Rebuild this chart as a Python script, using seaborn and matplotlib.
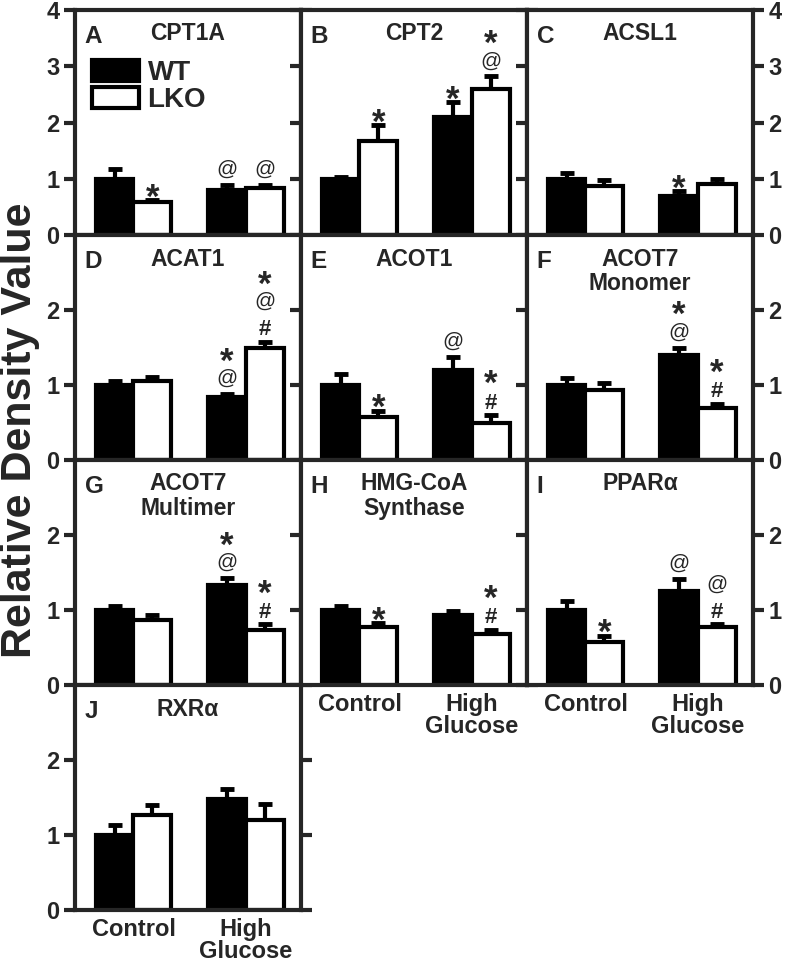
import numpy as np
import pandas as pd
import matplotlib
matplotlib.use("Agg")
import matplotlib.pyplot as plt
import seaborn as sns

sns.set_style("ticks")
plt.rcParams['font.family'] = ['Liberation Sans', 'DejaVu Sans']
plt.rcParams['font.weight'] = 'bold'

# ---------------- data ----------------
conditions = ['Control', 'High\nGlucose']
genotypes = ['WT', 'LKO']
panel_letters = ['A', 'B', 'C', 'D', 'E', 'F', 'G', 'H', 'I', 'J']
panel_titles = ['CPT1A', 'CPT2', 'ACSL1', 'ACAT1', 'ACOT1', 'ACOT7\nMonomer',
                'ACOT7\nMultimer', 'HMG-CoA\nSynthase', 'PPARα', 'RXRα']

wt_control = [1.00, 1.00, 1.00, 1.00, 1.00, 1.00, 1.00, 1.00, 1.00, 1.00]
wt_control_err = [0.17, 0.03, 0.10, 0.06, 0.15, 0.10, 0.06, 0.05, 0.12, 0.14]
lko_control = [0.59, 1.68, 0.87, 1.05, 0.58, 0.93, 0.87, 0.78, 0.58, 1.27]
lko_control_err = [0.03, 0.28, 0.10, 0.06, 0.08, 0.10, 0.07, 0.05, 0.08, 0.13]
wt_high = [0.80, 2.09, 0.70, 0.84, 1.20, 1.40, 1.33, 0.94, 1.26, 1.48]
wt_high_err = [0.09, 0.28, 0.08, 0.04, 0.17, 0.10, 0.10, 0.05, 0.15, 0.13]
lko_high = [0.84, 2.60, 0.90, 1.50, 0.50, 0.70, 0.74, 0.68, 0.77, 1.20]
lko_high_err = [0.05, 0.22, 0.10, 0.08, 0.10, 0.05, 0.07, 0.06, 0.04, 0.21]

# significance marks, listed bottom-to-top: (condition index, genotype, marks)
marks = [
    [(0, 'LKO', '*'), (1, 'WT', '@'), (1, 'LKO', '@')],
    [(0, 'LKO', '*'), (1, 'WT', '*'), (1, 'LKO', '@*')],
    [(1, 'WT', '*')],
    [(1, 'WT', '@*'), (1, 'LKO', '#@*')],
    [(0, 'LKO', '*'), (1, 'WT', '@'), (1, 'LKO', '#*')],
    [(1, 'WT', '@*'), (1, 'LKO', '#*')],
    [(1, 'WT', '@*'), (1, 'LKO', '#*')],
    [(0, 'LKO', '*'), (1, 'LKO', '#*')],
    [(0, 'LKO', '*'), (1, 'WT', '@'), (1, 'LKO', '#@')],
    [],
]

# ---------------- layout ----------------
W, H = 789, 965
fig = plt.figure(figsize=(W / 100, H / 100), dpi=100)
gs = fig.add_gridspec(4, 3, left=75 / W, right=753 / W, top=1 - 10 / H,
                      bottom=1 - 910 / H, hspace=0, wspace=0)

PX2PT = 72 / 100
sym_style = {
    '*': dict(fontsize=25, fontweight='bold', ink_c=0.56, ink_h=0.33),
    '@': dict(fontsize=15, fontweight='normal', ink_c=0.27, ink_h=0.93),
    '#': dict(fontsize=16, fontweight='bold', ink_c=0.35, ink_h=0.73),
}
palette = {'WT': 'black', 'LKO': 'white'}

for i in range(10):
    r, c = (i // 3, i % 3) if i < 9 else (3, 0)
    ax = fig.add_subplot(gs[r, c])
    df = pd.DataFrame({
        'condition': [conditions[0], conditions[0], conditions[1], conditions[1]],
        'genotype': ['WT', 'LKO', 'WT', 'LKO'],
        'value': [wt_control[i], lko_control[i], wt_high[i], lko_high[i]],
        'err': [wt_control_err[i], lko_control_err[i], wt_high_err[i], lko_high_err[i]],
    })
    sns.barplot(data=df, x='condition', y='value', hue='genotype', order=conditions,
                hue_order=genotypes, palette=palette, edgecolor='black', linewidth=3,
                width=0.67, errorbar=None, legend=False, saturation=1, ax=ax, zorder=3)
    # error bars (upper only)
    tops = {}
    for k, g in enumerate(genotypes):
        cont = ax.containers[k]
        for j, bar in enumerate(cont):
            x = bar.get_x() + bar.get_width() / 2
            h = bar.get_height()
            e = df[(df.condition == conditions[j]) & (df.genotype == g)]['err'].iloc[0]
            ax.errorbar([x], [h], yerr=[[0], [e]], fmt='none', ecolor='black',
                        elinewidth=3, capsize=5, capthick=3.5, zorder=2)
            tops[(j, g)] = (x, h + e)

    ymax = 4 if r == 0 else 3
    ax.set_ylim(0, ymax)
    ax.set_yticks(range(0, 5) if r == 0 else [0, 1, 2])
    ax.set_xlim(-0.52, 1.49)
    ax.set_xlabel('')
    ax.set_ylabel('')
    for sp in ax.spines.values():
        sp.set_visible(True)
        sp.set_linewidth(3)
        sp.set_zorder(5)
    ax.tick_params(axis='y', direction='out', left=True, right=True, length=8,
                   width=3, labelsize=17, labelleft=(c == 0), labelright=(c == 2),
                   pad=3)
    show_x = (i in (7, 8, 9))
    ax.tick_params(axis='x', length=0, labelsize=17, labelbottom=show_x, pad=6)
    if show_x:
        for lab in ax.get_xticklabels():
            lab.set_fontweight('bold')
            lab.set_linespacing(0.95)
    for lab in ax.get_yticklabels():
        lab.set_fontweight('bold')

    # panel letter and title
    ax.annotate(panel_letters[i], xy=(0, 1), xycoords='axes fraction',
                xytext=(7, -11), textcoords='offset points', ha='left', va='top',
                fontsize=17.5, fontweight='bold')
    ax.annotate(panel_titles[i], xy=(0.5, 1), xycoords='axes fraction',
                xytext=(0, -9), textcoords='offset points', ha='center', va='top',
                fontsize=16.5, fontweight='bold', linespacing=1.1)

    # significance marks
    for (j, g, syms) in marks[i]:
        x, top = tops[(j, g)]
        center_px = None
        for n, s in enumerate(syms):
            st = sym_style[s]
            em_px = st['fontsize'] / PX2PT
            if n == 0:
                center_px = 6 + st['ink_h'] * em_px / 2
            else:
                center_px += 26
            base_px = center_px - st['ink_c'] * em_px
            ax.annotate(s, xy=(x, top), xycoords='data',
                        xytext=(0, base_px * PX2PT), textcoords='offset points',
                        ha='center', va='baseline', fontsize=st['fontsize'],
                        fontweight=st['fontweight'], annotation_clip=False)

    if i == 0:
        handles = [ax.containers[0][0], ax.containers[1][0]]
        ax.legend(handles, genotypes, loc='upper left', bbox_to_anchor=(0.075, 0.78),
                  frameon=False, prop={'size': 20, 'weight': 'bold'},
                  handlelength=1.7, handleheight=0.8, handletextpad=0.3,
                  labelspacing=0.05, borderpad=0, borderaxespad=0)

fig.text(20 / W, 1 - 430 / H, 'Relative Density Value', rotation=90, ha='center',
         va='center', fontsize=31, fontweight='bold')

fig.savefig('out.png', dpi=100)
